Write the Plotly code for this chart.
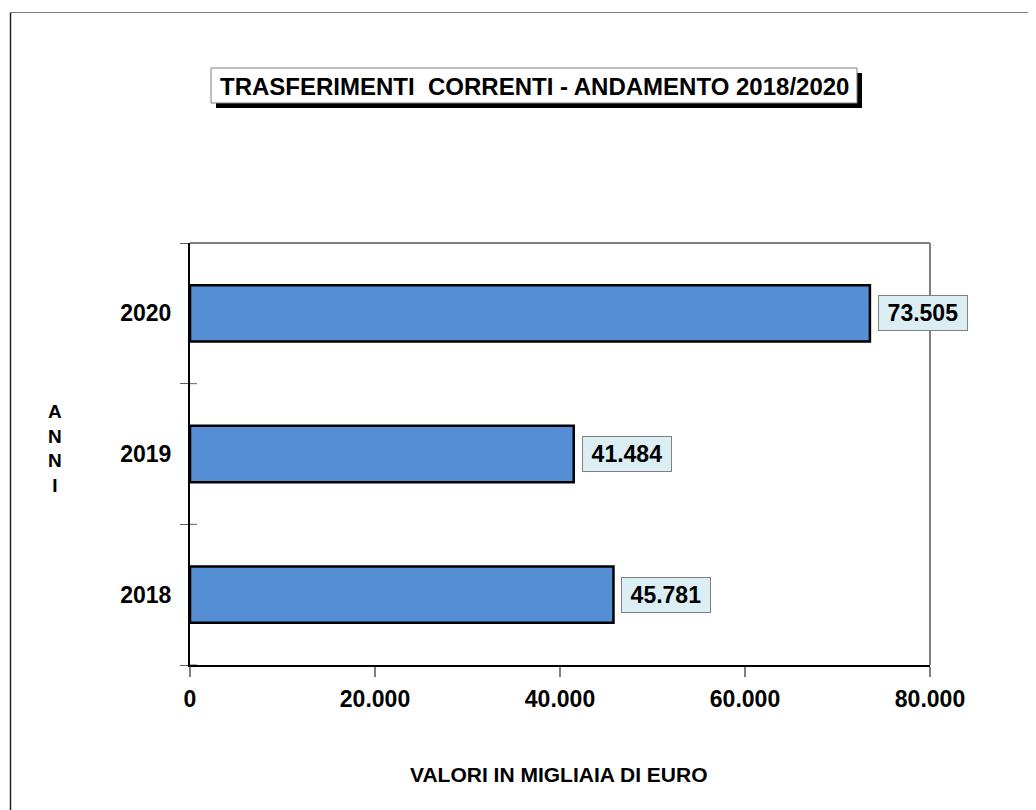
import plotly.graph_objects as go

years = ["2018", "2019", "2020"]
values = [45781, 41484, 73505]
x_ticks = [0, 20000, 40000, 60000, 80000]
x_tick_labels = ["0", "20.000", "40.000", "60.000", "80.000"]
title_text = "TRASFERIMENTI  CORRENTI - ANDAMENTO 2018/2020"
x_title = "VALORI IN MIGLIAIA DI EURO"
y_title = "A<br>N<br>N<br>I"

FONT = "Liberation Sans, Arial, sans-serif"
OFF = 8  # page body margin
W, H = 1036 - OFF, 810 - OFF
X0, X1, Y0, Y1 = 190, 930, 243, 665
L, R, T, B = X0 - OFF, W - (X1 - OFF), Y0 - OFF, H - (Y1 - OFF)
PW, PH = X1 - X0, Y1 - Y0


def px(xp):
    return (xp - X0) / PW


def py(yp):
    return (Y1 - yp) / PH


def fmt(v):
    return f"{v:,}".replace(",", ".")


fig = go.Figure()
fig.add_trace(go.Bar(
    y=years, x=values, orientation="h", width=0.4,
    marker=dict(color="#558ed5", line=dict(color="black", width=2.5)),
    hoverinfo="skip",
))

annotations = []
for i, v in enumerate(values):
    annotations.append(dict(
        x=v, y=i, xref="x", yref="y", text="\u2009<b>" + fmt(v) + "</b>\u2009",
        showarrow=False, xanchor="left", yanchor="middle", xshift=8,
        font=dict(family=FONT, size=23, color="black"),
        bgcolor="#dbeef4", bordercolor="#808080", borderwidth=1, borderpad=4,
    ))

annotations.append(dict(
    x=px(534), y=py(86), xref="paper", yref="paper", text="<b>" + title_text + "</b>",
    showarrow=False, xanchor="center", yanchor="middle",
    font=dict(family=FONT, size=24, color="black"),
))
annotations.append(dict(
    x=px(55), y=py(448), xref="paper", yref="paper", text="<b>" + y_title + "</b>",
    showarrow=False, xanchor="center", yanchor="middle",
    font=dict(family=FONT, size=19, color="black"),
))
annotations.append(dict(
    x=px(559), y=py(774), xref="paper", yref="paper", text="<b>" + x_title + "</b>",
    showarrow=False, xanchor="center", yanchor="middle",
    font=dict(family=FONT, size=21, color="black"),
))

shapes = [
    dict(type="line", xref="paper", yref="paper", x0=px(10.5), x1=px(1040), y0=py(12.5), y1=py(12.5),
         line=dict(color="#808080", width=1)),
    dict(type="line", xref="paper", yref="paper", x0=px(10.5), x1=px(10.5), y0=py(12.5), y1=py(820),
         line=dict(color="#202020", width=1.5)),
    dict(type="rect", xref="paper", yref="paper", x0=px(216), x1=px(862), y0=py(73), y1=py(108),
         fillcolor="black", line=dict(width=0), layer="below"),
    dict(type="rect", xref="paper", yref="paper", x0=px(211), x1=px(857), y0=py(68), y1=py(103),
         fillcolor="white", line=dict(color="#808080", width=1), layer="below"),
    dict(type="line", xref="paper", yref="paper", x0=0, x1=1, y0=1, y1=1,
         line=dict(color="#808080", width=2)),
    dict(type="line", xref="paper", yref="paper", x0=1, x1=1, y0=0, y1=1,
         line=dict(color="#808080", width=2)),
]
# inner halves of the crossing category ticks
for b in [-0.5, 0.5, 1.5]:
    shapes.append(dict(type="line", xref="paper", yref="y", x0=0, x1=px(197), y0=b, y1=b,
                       line=dict(color="#606060", width=1)))

fig.update_layout(
    width=W, height=H,
    margin=dict(l=L, r=R, t=T, b=B, pad=0),
    paper_bgcolor="white", plot_bgcolor="white",
    separators=",.",
    showlegend=False,
    annotations=annotations,
    shapes=shapes,
    xaxis=dict(
        range=[0, 80000], tickvals=x_ticks,
        ticktext=["<b>" + t + "</b>" for t in x_tick_labels],
        showgrid=False, zeroline=False,
        showline=True, linecolor="black", linewidth=2,
        ticks="outside", ticklen=10, tickcolor="#808080", tickwidth=1.5,
        tickfont=dict(family=FONT, size=23, color="black"),
        ticklabelstandoff=2,
        fixedrange=True,
    ),
    yaxis=dict(
        range=[-0.5, 2.5], type="category",
        tickvals=years, ticktext=["<b>" + y + "</b>" for y in years],
        showgrid=False, zeroline=False,
        showline=True, linecolor="black", linewidth=2,
        ticks="outside", tickson="boundaries", ticklen=8, tickcolor="#606060", tickwidth=1,
        tickfont=dict(family=FONT, size=23, color="black"),
        ticklabelstandoff=12,
        fixedrange=True,
    ),
)

fig.write_html("out.html")
